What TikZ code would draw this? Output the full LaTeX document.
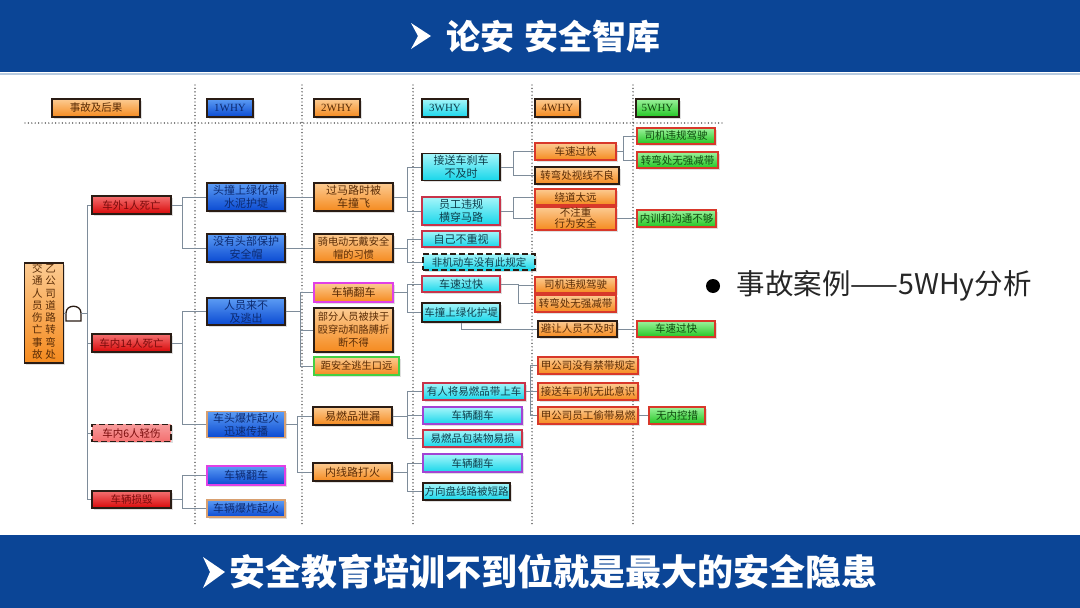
\documentclass[tikz,border=0pt]{standalone}
\usepackage{fontspec}
\setmainfont{Liberation Serif}
\newfontfamily\cjk{Noto Sans CJK SC}
\usetikzlibrary{shadows}
\definecolor{barblue}{HTML}{0B4596}
\definecolor{barline}{HTML}{B8CBE0}
\definecolor{boxdark}{HTML}{2A1C14}
\definecolor{conncol}{HTML}{7E8C9A}
\definecolor{redtop}{HTML}{F47070}
\definecolor{redbot}{HTML}{D80808}
\definecolor{redtxt}{HTML}{7A0C0C}
\definecolor{bluetop}{HTML}{5C9CF4}
\definecolor{bluebot}{HTML}{0A4AD2}
\definecolor{bluetxt}{HTML}{0C2A70}
\definecolor{orgtop}{HTML}{FCCB92}
\definecolor{orgbot}{HTML}{F58A1E}
\definecolor{orgtxt}{HTML}{5A2C06}
\definecolor{cyatop}{HTML}{A6F6FA}
\definecolor{cyabot}{HTML}{18D6EA}
\definecolor{cyatxt}{HTML}{0E3E4C}
\definecolor{grntop}{HTML}{9CF29C}
\definecolor{grnbot}{HTML}{22C622}
\definecolor{grntxt}{HTML}{0E4A0E}
\definecolor{redline}{HTML}{D8382A}
\definecolor{pinkline}{HTML}{C8344A}
\definecolor{magline}{HTML}{E040E6}
\definecolor{purline}{HTML}{A244D4}
\definecolor{grnline}{HTML}{44D044}
\definecolor{tanline}{HTML}{D8A070}
\tikzset{
  box/.style={draw=boxdark, line width=1.3pt, inner sep=0pt, align=center,
    font=\cjk\fontsize{10.5}{12}\selectfont,
    drop shadow={opacity=0.25, shadow xshift=1.5pt, shadow yshift=-1.5pt}},
  two/.style={font=\cjk\fontsize{11}{13}\selectfont},
  small/.style={font=\cjk\fontsize{10.2}{12.4}\selectfont},
  redb/.style={box, top color=redtop, bottom color=redbot, text=redtxt},
  blueb/.style={box, top color=bluetop, bottom color=bluebot, text=bluetxt},
  orgb/.style={box, top color=orgtop, bottom color=orgbot, text=orgtxt},
  cyab/.style={box, top color=cyatop, bottom color=cyabot, text=cyatxt},
  grnb/.style={box, top color=grntop, bottom color=grnbot, text=grntxt, draw=redline},
  hdr/.style={font=\fontsize{11}{12}\selectfont, minimum height=18},
  conn/.style={draw=conncol, line width=0.9pt},
  dotline/.style={draw=black!85, line width=1.4pt, line cap=round, dash pattern=on 0pt off 3.4pt},
}
\begin{document}
\begin{tikzpicture}[x=1pt,y=-1pt]
\useasboundingbox (0,0) rectangle (1080,608);
\fill[white] (0,0) rectangle (1080,608);
% top bar
\fill[barblue] (0,0) rectangle (1080,72);
\draw[barline, line width=2pt] (0,73.5) -- (1080,73.5);
\fill[white] (411,23) -- (431,36) -- (411,49) -- (418,36) -- cycle;
\node[font=\cjk\bfseries\fontsize{34}{34}\selectfont, text=white, anchor=west] (title) at (443,37) {论安\hspace{10pt}安全智库};
% bottom bar
\fill[barblue] (0,535) rectangle (1080,608);
\fill[white] (203,557) -- (225,572) -- (203,588) -- (210,572) -- cycle;
\node[font=\cjk\bfseries\fontsize{36}{36}\selectfont, text=white, anchor=west] (foot) at (226,572) {安全教育培训不到位就是最大的安全隐患};
% right text
\node[circle, fill=black, minimum size=14pt, inner sep=0pt] (bullet) at (713,286) {};
\node[anchor=west, font=\cjk\fontsize{28.5}{28.5}\selectfont, text=black!85] (case) at (733,286) {事故案例——5WHy分析};
% dotted grid
\draw[dotline] (25,123) -- (722,123);
\foreach \xx in {195,302,413,532,633} \draw[dotline] (\xx,85) -- (\xx,525);
% headers
\node[orgb, hdr, font=\cjk\fontsize{10.5}{12}\selectfont, minimum width=88] (h0) at (96,108) {事故及后果};
\node[blueb, hdr, minimum width=46] (h1) at (230,108) {1WHY};
\node[orgb, hdr, minimum width=46] (h2) at (337,108) {2WHY};
\node[cyab, hdr, minimum width=46] (h3) at (445,108) {3WHY};
\node[orgb, hdr, minimum width=45] (h4) at (557.5,108) {4WHY};
\node[grnb, hdr, draw=boxdark, minimum width=43] (h5) at (657.5,108) {5WHY};
% main box
\node[orgb, minimum width=39, minimum height=100, font=\cjk\fontsize{10.5}{11.5}\selectfont] (main) at (44,313)
  {\setlength\tabcolsep{0pt}\begin{tabular}{c@{\hspace{3pt}}c}交&乙\\通&公\\人&司\\员&道\\伤&路\\亡&转\\事&弯\\故&处\end{tabular}};
% gate
\coordinate (gateL) at (66,313);
\coordinate (gate) at (81,313);
\draw[boxdark, line width=1.3pt, fill=white] (66,321) -- (66,313) .. controls (66,304) and (81,304) .. (81,313) -- (81,321) -- cycle;
\draw[conn] (main.east) -- (gateL);
% level 1
\node[redb, minimum width=79, minimum height=18] (c1) at (131.5,205) {车外1人死亡};
\node[redb, minimum width=79, minimum height=18] (c2) at (131.5,343) {车内14人死亡};
\node[redb, top color=redtop!70!white, bottom color=redtop, dashed, dash pattern=on 6pt off 3pt, line width=1.5pt, minimum width=79, minimum height=17] (c3) at (131.5,433) {车内6人轻伤};
\node[redb, minimum width=79, minimum height=17] (c4) at (131.5,499.5) {车辆损毁};
% 1WHY
\node[blueb, two, minimum width=78, minimum height=28] (w1) at (246,197) {头撞上绿化带\\水泥护堤};
\node[blueb, two, minimum width=78, minimum height=28] (w2) at (246,248) {没有头部保护\\安全帽};
\node[blueb, two, minimum width=78, minimum height=27] (w3) at (246,311.5) {人员来不\\及逃出};
\node[blueb, two, draw=tanline, minimum width=78, minimum height=26] (w4) at (246,424.5) {车头爆炸起火\\迅速传播};
\node[blueb, two, draw=magline, minimum width=78, minimum height=19] (w5) at (246,475.5) {车辆翻车};
\node[blueb, two, draw=tanline, minimum width=78, minimum height=17] (w6) at (246,508.5) {车辆爆炸起火};
% 2WHY
\node[orgb, two, minimum width=79, minimum height=28] (x1) at (353.5,197) {过马路时被\\车撞飞};
\node[orgb, small, minimum width=79, minimum height=28] (x2) at (353.5,248) {骑电动无戴安全\\帽的习惯};
\node[orgb, two, draw=magline, minimum width=79, minimum height=19] (x3) at (353.5,292.5) {车辆翻车};
\node[orgb, small, font=\cjk\fontsize{10.2}{13}\selectfont, minimum width=79, minimum height=44] (x4) at (353.5,330) {部分人员被挟于\\殴穿动和胳膊折\\断不得};
\node[orgb, small, draw=grnline, line width=1.6pt, minimum width=85, minimum height=18] (x5) at (356.5,366) {距安全逃生口远};
\node[orgb, two, minimum width=79, minimum height=18] (x6) at (352.5,416) {易燃品泄漏};
\node[orgb, two, minimum width=79, minimum height=18] (x7) at (352.5,472) {内线路打火};
% 3WHY
\node[cyab, two, minimum width=78, minimum height=27] (y1) at (461,167) {接送车刹车\\不及时};
\node[cyab, two, draw=pinkline, minimum width=78, minimum height=28] (y2) at (461,211) {员工违规\\横穿马路};
\node[cyab, two, draw=pinkline, minimum width=78, minimum height=16] (y3) at (461,239) {自己不重视};
\node[cyab, dashed, dash pattern=on 6pt off 3pt, line width=1.5pt, minimum width=112, minimum height=16] (y4) at (479,262) {非机动车没有此规定};
\node[cyab, two, draw=pinkline, minimum width=78, minimum height=16] (y5) at (461,284) {车速过快};
\node[cyab, minimum width=78, minimum height=19] (y6) at (461,312.5) {车撞上绿化护堤};
\node[cyab, draw=pinkline, minimum width=102, minimum height=17] (y7) at (474,391.5) {有人将易燃品带上车};
\node[cyab, draw=purline, minimum width=99, minimum height=17] (y8) at (472.5,415.5) {车辆翻车};
\node[cyab, draw=pinkline, minimum width=99, minimum height=17] (y9) at (472.5,438.5) {易燃品包装物易损};
\node[cyab, draw=purline, minimum width=99, minimum height=18] (y10) at (472.5,463) {车辆翻车};
\node[cyab, minimum width=87, minimum height=17] (y11) at (466.5,491.5) {方向盘线路被短路};
% 4WHY
\node[orgb, draw=redline, minimum width=81, minimum height=17] (z1) at (575.5,151.5) {车速过快};
\node[orgb, minimum width=84, minimum height=17] (z2) at (577,175.5) {转弯处视线不良};
\node[orgb, draw=redline, minimum width=81, minimum height=16] (z3) at (575.5,197) {绕道太远};
\node[orgb, draw=redline, font=\cjk\fontsize{10.5}{11}\selectfont, minimum width=81, minimum height=23] (z4) at (575.5,218.5) {不注重\\行为安全};
\node[orgb, draw=redline, minimum width=81, minimum height=16] (z5) at (575.5,285) {司机违规驾驶};
\node[orgb, draw=redline, minimum width=81, minimum height=17] (z6) at (575.5,303.5) {转弯处无强减带};
\node[orgb, minimum width=79, minimum height=16] (z7) at (577.5,329) {避让人员不及时};
\node[orgb, draw=redline, minimum width=100, minimum height=17] (z8) at (588,365.5) {甲公司没有禁带规定};
\node[orgb, draw=redline, minimum width=100, minimum height=17] (z9) at (588,391.5) {接送车司机无此意识};
\node[orgb, draw=redline, minimum width=100, minimum height=17] (z10) at (588,415.5) {甲公司员工偷带易燃};
% 5WHY
\node[grnb, minimum width=78, minimum height=16] (v1) at (676,136) {司机违规驾驶};
\node[grnb, minimum width=81, minimum height=16] (v2) at (677.5,160) {转弯处无强减带};
\node[grnb, minimum width=79, minimum height=17] (v3) at (676.5,218.5) {内训和沟通不够};
\node[grnb, minimum width=78, minimum height=16] (v4) at (676,329) {车速过快};
\node[grnb, minimum width=56, minimum height=17] (v5) at (677,415.5) {无内控措};
% connectors
\draw[conn] (gate) -- ++(6,0) |- (c1.west);
\draw[conn] (gate) -- ++(6,0) |- (c2.west);
\draw[conn] (gate) -- ++(6,0) |- (c3.west);
\draw[conn] (gate) -- ++(6,0) |- (c4.west);
\foreach \s/\t in {c1/w1,c1/w2,c2/w3,c2/w4,c4/w5,c4/w6}
  \draw[conn] (\s.east) -- ++(11,0) |- (\t.west);
\draw[conn] (w1.east) -- (x1.west);
\draw[conn] (w2.east) -- (x2.west);
\foreach \t in {x3,x4,x5} \draw[conn] (w3.east) -- ++(15,0) |- (\t.west);
\foreach \t in {x6,x7} \draw[conn] (w4.east) -- ++(12,0) |- (\t.west);
\foreach \s/\t in {x1/y1,x1/y2,x2/y3,x2/y4,x3/y5,x3/y6}
  \draw[conn] (\s.east) -- ++(14,0) |- (\t.west);
\foreach \s/\t in {x6/y7,x6/y8,x6/y9,x7/y10,x7/y11}
  \draw[conn] (\s.east) -- ++(15,0) |- (\t.west);
\foreach \s/\t in {y1/z1,y1/z2,y2/z3,y2/z4}
  \draw[conn] (\s.east) -- ++(13,0) |- (\t.west);
\foreach \t in {z5,z6} \draw[conn] (y5.east) -- ++(18,0) |- (\t.west);
\draw[conn] (y6.south) |- (z7.west);
\foreach \t in {z8,z9,z10} \draw[conn] (y7.east) -- ++(5,0) |- (\t.west);
\foreach \t in {v1,v2} \draw[conn] (z1.east) -- ++(7,0) |- (\t.west);
\draw[conn] (z4.east) -- (v3.west);
\draw[conn] (z7.east) -- (v4.west);
\draw[conn] (z10.east) -- (v5.west);
\end{tikzpicture}
\end{document}
